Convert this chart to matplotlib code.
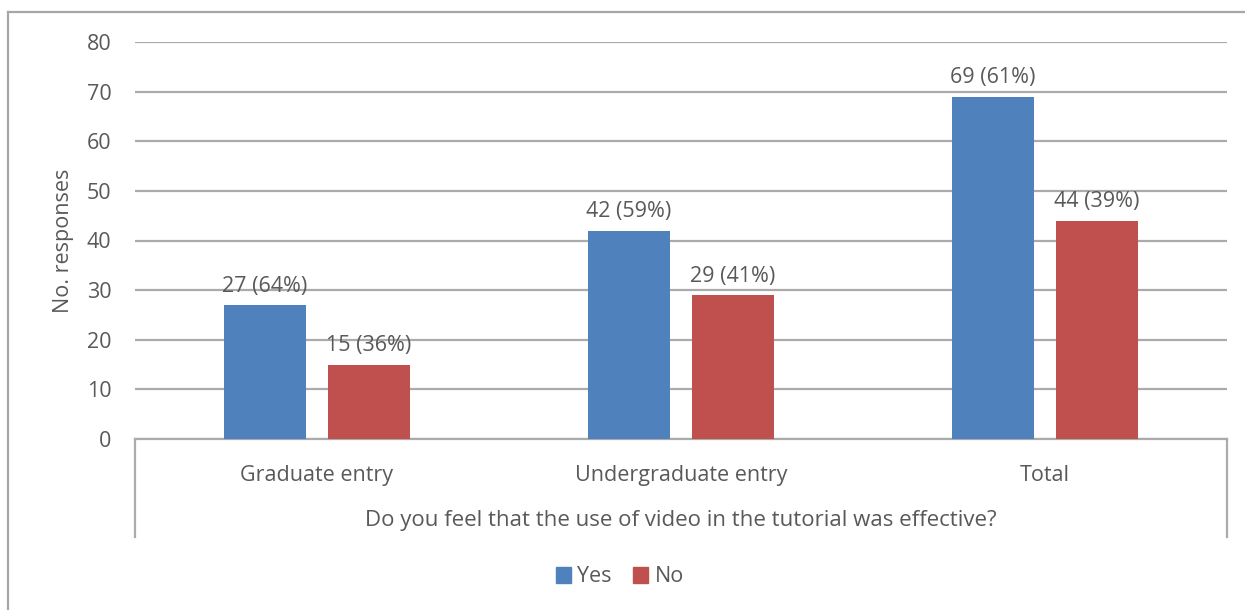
import matplotlib.pyplot as plt
import numpy as np
from matplotlib.lines import Line2D
from matplotlib.patches import Patch

plt.rcParams['font.family'] = ['Open Sans', 'DejaVu Sans']

categories = ['Graduate entry', 'Undergraduate entry', 'Total']
yes_vals = [27, 42, 69]
no_vals = [15, 29, 44]
yes_pct = [64, 59, 61]
no_pct = [36, 41, 39]
group_title = 'Do you feel that the use of video in the tutorial was effective?'

text_col = '#595959'
grid_col = '#ABABAB'
yes_col = '#4F81BD'
no_col = '#C0504D'
fs = 15.5

fig = plt.figure(figsize=(12.45, 6.10), dpi=100)
ax = fig.add_axes([135 / 1245, 1 - 439 / 610, (1227 - 135) / 1245, (439 - 42) / 610])

x = np.arange(len(categories))
w = 0.225
off = 0.143
b1 = ax.bar(x - off, yes_vals, w, color=yes_col, zorder=3)
b2 = ax.bar(x + off, no_vals, w, color=no_col, zorder=3)

for bars, vals, pcts in [(b1, yes_vals, yes_pct), (b2, no_vals, no_pct)]:
    for r, v, p in zip(bars, vals, pcts):
        ax.annotate(f'{v} ({p}%)', (r.get_x() + r.get_width() / 2, v),
                    xytext=(0, 6), textcoords='offset points',
                    ha='center', va='bottom', fontsize=fs, color=text_col)

ax.set_xlim(-0.5, len(categories) - 0.5)
ax.set_ylim(0, 80)
ax.set_yticks(range(0, 81, 10))
ax.yaxis.grid(True, color=grid_col, linewidth=1.6, zorder=0)
ax.tick_params(axis='y', length=0, pad=17, labelsize=fs, labelcolor=text_col)
ax.tick_params(axis='x', length=0, bottom=False, labelbottom=False)
for s in ['top', 'right', 'left']:
    ax.spines[s].set_visible(False)
ax.spines['bottom'].set_color(grid_col)
ax.spines['bottom'].set_linewidth(1.6)

ax.set_ylabel('No. responses', fontsize=fs, color=text_col, labelpad=9)

# multi-level category axis
for i, c in enumerate(categories):
    ax.text(i, -0.092, c, transform=ax.get_xaxis_transform(), ha='center', va='center',
            fontsize=fs, color=text_col)
ax.text(1, -0.205, group_title, transform=ax.get_xaxis_transform(), ha='center', va='center',
        fontsize=16, color=text_col)
for xe in [-0.5, len(categories) - 0.5]:
    ax.add_line(Line2D([xe, xe], [0, -0.247], transform=ax.get_xaxis_transform(),
                       color=grid_col, linewidth=1.6, clip_on=False))

# outer chart frame
fig.add_artist(Line2D([8 / 1245, 8 / 1245], [0, 1 - 12 / 610], color='#A6A6A6', linewidth=1.6))
fig.add_artist(Line2D([8 / 1245, 1], [1 - 12 / 610, 1 - 12 / 610], color='#A6A6A6', linewidth=1.6))

handles = [Patch(color=yes_col, label='Yes'), Patch(color=no_col, label='No')]
fig.legend(handles=handles, loc='center', bbox_to_anchor=(620 / 1245, 1 - 577 / 610), ncol=2,
           frameon=False, fontsize=fs, labelcolor=text_col, handlelength=0.7, handleheight=0.7,
           handletextpad=0.3, columnspacing=1.0)

fig.savefig('out.png', dpi=100)
